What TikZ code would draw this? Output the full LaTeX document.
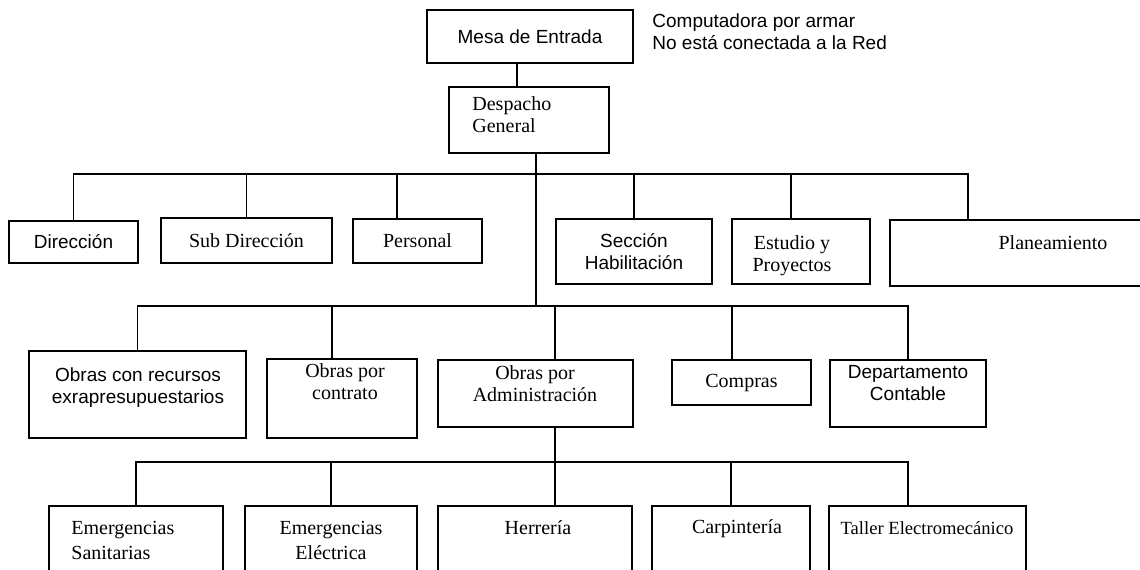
\documentclass[tikz,border=0pt]{standalone}
\usepackage{fontspec}
\newfontfamily\arialfont{Liberation Sans}
\newfontfamily\timesfont{Liberation Serif}
\usetikzlibrary{positioning}
\tikzset{
  sanstxt/.style={font=\arialfont\fontsize{9.5}{11}\selectfont,align=center,inner sep=0pt},
  seriftxt/.style={font=\timesfont\fontsize{10}{11}\selectfont,align=center,inner sep=0pt},
  box/.style={draw=black,line width=0.9pt,fill=white,inner sep=0pt},
  link/.style={draw=black,line width=0.9pt}
}

\begin{document}
\begin{tikzpicture}[x=0.5pt,y=-0.5pt]
\useasboundingbox (0,0) rectangle (1140,569);
\clip (0,0) rectangle (1140,569);

% top
\node[box,sanstxt,minimum width=103pt,minimum height=26.5pt] (mesa) at (530,36.5) {Mesa de Entrada};
\node[sanstxt,anchor=west,align=left] (nota) at (652,32) {Computadora por armar\\No está conectada a la Red};
\node[box,minimum width=80pt,minimum height=33pt] (desp) at (529,120) {};
\node[seriftxt,anchor=west,align=left] (despT) at (472,115) {Despacho\\General};

% first level
\node[box,sanstxt,minimum width=64.5pt,minimum height=21pt] (dir) at (73.5,242) {Dirección};
\node[box,seriftxt,minimum width=85.5pt,minimum height=22.5pt] (subd) at (246.5,240.5) {Sub Dirección};
\node[box,seriftxt,minimum width=64.5pt,minimum height=22pt] (pers) at (417.5,241) {Personal};
\node[box,sanstxt,minimum width=78pt,minimum height=32.5pt] (secc) at (634,251.5) {Sección\\Habilitación};
\node[box,minimum width=69pt,minimum height=32.5pt] (estu) at (801,251.5) {};
\node[seriftxt] (estuT) at (792,255.5) {Estudio y\\Proyectos};
\node[box,minimum width=163pt,minimum height=33pt] (plan) at (1053,253) {};
\node[seriftxt] (planT) at (1053,243) {Planeamiento};

% second level
\node[box,minimum width=108.5pt,minimum height=43.5pt] (ocr) at (137.5,394.5) {};
\node[sanstxt] (ocrT) at (138,387.5) {Obras con recursos\\exrapresupuestarios};
\node[box,minimum width=75pt,minimum height=39.5pt] (opc) at (342,398.5) {};
\node[seriftxt] (opcT) at (345,382) {Obras por\\contrato};
\node[box,minimum width=97.5pt,minimum height=33.5pt] (opa) at (535.5,393.5) {};
\node[seriftxt] (opaT) at (535,384) {Obras por\\Administración};
\node[box,seriftxt,minimum width=69.5pt,minimum height=22.5pt] (comp) at (741.5,382.5) {Compras};
\node[box,minimum width=78pt,minimum height=33.5pt] (dept) at (908,393.5) {};
\node[sanstxt] (deptT) at (908,383) {Departamento\\Contable};

% third level
\node[box,minimum width=87pt,minimum height=47pt] (esan) at (136,553) {};
\node[seriftxt,anchor=west,align=left] (esanT) at (71,540.5) {Emergencias\\[1.5pt]Sanitarias};
\node[box,minimum width=86pt,minimum height=47pt] (eele) at (331,553) {};
\node[seriftxt] (eeleT) at (331,540.5) {Emergencias\\[1.5pt]Eléctrica};
\node[box,minimum width=97pt,minimum height=47pt] (herr) at (535,553) {};
\node[seriftxt] (herrT) at (538,528) {Herrería};
\node[box,minimum width=79pt,minimum height=47pt] (carp) at (731,553) {};
\node[seriftxt] (carpT) at (737,529) {Carpintería};
\node[box,minimum width=98.5pt,minimum height=47pt] (tall) at (927.5,553) {};
\node[seriftxt,font=\timesfont\fontsize{9.3}{11}\selectfont] (tallT) at (927,528) {Taller Electromecánico};

% connectors
\coordinate (j0) at ([xshift=-6.5pt]mesa.south);
\coordinate (j1) at (536,174);
\coordinate (j2) at (536,306);
\coordinate (j3) at (555,462);
\draw[link] (j0) -- (j0 |- desp.north);
\draw[link] (desp.south -| j1) -- (j2);

\draw[link] (j1) -| (dir.north);
\draw[link] (j1) -| (subd.north);
\draw[link] (j1) -| ([xshift=-10.25pt]pers.north);
\draw[link] (j1) -| (secc.north);
\draw[link] (j1) -| ([xshift=-5pt]estu.north);
\draw[link] (j1) -| ([xshift=-42.5pt]plan.north);

\draw[link] (j2) -| (ocr.north);
\draw[link] (j2) -| ([xshift=-5pt]opc.north);
\draw[link] (j2) -| ([xshift=9.75pt]opa.north);
\draw[link] (j2) -| ([xshift=-4.75pt]comp.north);
\draw[link] (j2) -| (dept.north);

\draw[link] (opa.south -| j3) -- (j3);
\draw[link] (j3) -| (esan.north);
\draw[link] (j3) -| (eele.north);
\draw[link] (j3) -| ([xshift=10pt]herr.north);
\draw[link] (j3) -| (carp.north);
\draw[link] (j3) -| ([xshift=-9.75pt]tall.north);
\end{tikzpicture}
\end{document}
